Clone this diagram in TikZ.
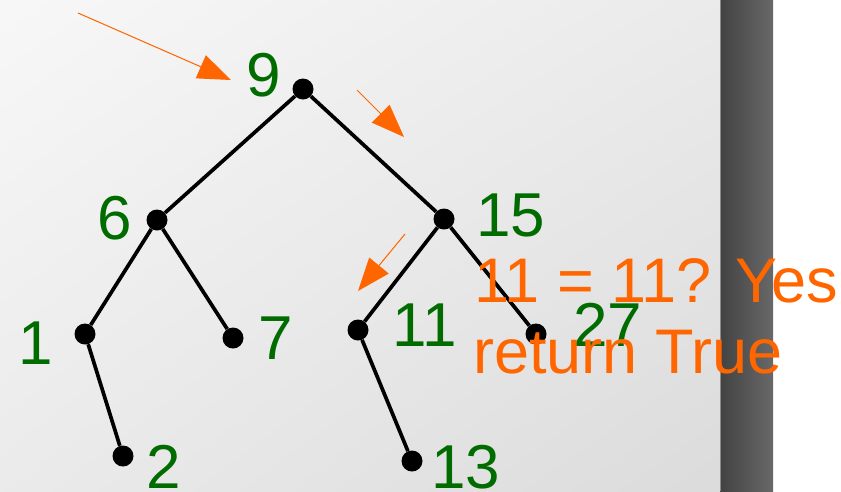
\documentclass[tikz,border=0pt]{standalone}
\usepackage{fontspec}
\setmainfont{Liberation Sans}
\usetikzlibrary{arrows.meta,shadings}
\definecolor{treegreen}{RGB}{0,108,0}
\definecolor{hiorange}{RGB}{255,102,0}

\begin{document}
\begin{tikzpicture}[x=1pt, y=-1pt,
  vert/.style={circle, fill=black, inner sep=0pt, minimum size=21pt},
  key/.style={text=treegreen, inner sep=0pt, font=\fontsize{62}{62}\selectfont},
  edge/.style={line width=3.7pt},
  hint/.style={draw=hiorange, line width=1pt, -{Triangle[length=33pt,width=25pt]}, fill=hiorange},
  note/.style={text=hiorange, inner sep=0pt, anchor=base west, font=\fontsize{63}{63}\selectfont}]
% slide background
\useasboundingbox (0,0) rectangle (841,491);
\fill[white] (0,0) rectangle (841,491);
\shade[upper left=black!3, upper right=black!8, lower left=black!8, lower right=black!14] (0,0) rectangle (720,491);
\shade[left color=black!74, right color=black!59] (720,0) rectangle (773,491);
\draw[black!45, line width=1pt] (720.5,0) -- (720.5,491);

% tree
\node[vert] (n9) at (303,89) {};
\node[vert] (n6) at (157,220) {};
\node[vert] (n15) at (444,219) {};
\node[vert] (n1) at (85,334) {};
\node[vert] (n7) at (233,338) {};
\node[vert] (n11) at (358,330) {};
\node[vert] (n27) at (536,334) {};
\node[vert] (n2) at (123,456) {};
\node[vert] (n13) at (412,461) {};

\draw[edge] (n9) -- (n6);
\draw[edge] (n9) -- (n15);
\draw[edge] (n6) -- (n1);
\draw[edge] (n6) -- (n7);
\draw[edge] (n1) -- (n2);
\draw[edge] (n15) -- (n11);
\draw[edge] (n15) -- (n27);
\draw[edge] (n11) -- (n13);

\node[key] (k9) at (264,75) {9};
\node[key] (k6) at (115,218) {6};
\node[key] (k15) at (511,215) {15};
\node[key] (k1) at (36,343) {1};
\node[key] (k7) at (276,338) {7};
\node[key] (k11) at (425,325) {11};
\node[key] (k27) at (608,325) {27};
\node[key] (k2) at (164,467) {2};
\node[key] (k13) at (466,467) {13};

% search path
\coordinate (a1s) at (78,13);
\coordinate (a1e) at (231,80);
\coordinate (a2s) at (357,90);
\coordinate (a2e) at (404,137);
\coordinate (a3s) at (405,234);
\coordinate (a3e) at (358,291);
\draw[hint] (a1s) -- (a1e);
\draw[hint] (a2s) -- (a2e);
\draw[hint] (a3s) -- (a3e);

\node[note] (yes) at (474,302) {11 = 11? Yes};
\node[note] (ret) at (473,373) {return True};
\end{tikzpicture}
\end{document}
